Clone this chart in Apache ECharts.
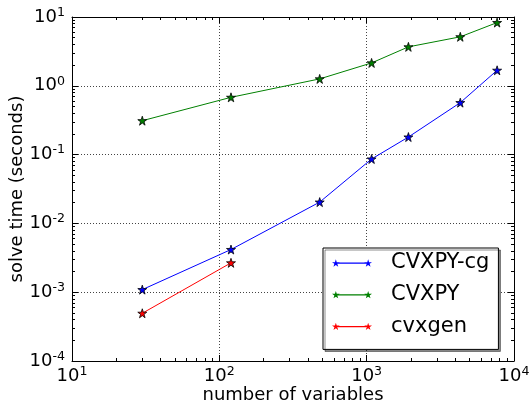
<!DOCTYPE html>
<html>
<head>
<meta charset="utf-8">
<script src="https://cdn.jsdelivr.net/npm/echarts@6/dist/echarts.min.js"></script>
<style>
  html, body { margin: 0; padding: 0; background: #fff; }
  #chart { width: 530px; height: 405px; }
</style>
</head>
<body>
<div id="chart"></div>
<script>
// data (log-log)
const numVars = [30, 120, 480, 1080, 1920, 4320, 7680]
const cvxpyCgTimes = [0.00109, 0.00417, 0.0204, 0.0863, 0.18, 0.569, 1.68]
const cvxpyTimes = [0.311, 0.68, 1.26, 2.15, 3.68, 5.15, 8.3]
const cvxgenVars = [30, 120]
const cvxgenTimes = [0.000494, 0.00267]
const seriesNames = ['CVXPY-cg', 'CVXPY', 'cvxgen']
const seriesColors = ['#0000ff', '#008000', '#ff0000']

const font = 'DejaVu Sans'
const star = 'path://M40,0 L48.99,27.62 L78.04,27.64 L54.55,44.73 L63.51,72.36 L40,55.3 L16.49,72.36 L25.45,44.73 L1.96,27.64 L31.01,27.62 Z'
// legend icon: two stars joined by a line (matplotlib numpoints=2)
const legendIcon = 'path://M40,0 L48.99,27.62 L78.04,27.64 L54.55,44.73 L63.51,72.36 L40,55.3 L16.49,72.36 L25.45,44.73 L1.96,27.64 L31.01,27.62 Z' +
  'M360,0 L368.99,27.62 L398.04,27.64 L374.55,44.73 L383.51,72.36 L360,55.3 L336.49,72.36 L345.45,44.73 L321.96,27.64 L351.01,27.62 Z' +
  'M60,31 L340,31 L340,44 L60,44 Z'

function pow10Label(value) {
  const e = Math.round(Math.log10(value))
  return '{b|10}{s|' + e + '}'
}
const labelRich = {
  b: { fontSize: 18, fontFamily: font, color: '#000', lineHeight: 22 },
  s: { fontSize: 12.6, fontFamily: font, color: '#000', verticalAlign: 'top', lineHeight: 14 }
}

function logAxis(extra) {
  return Object.assign({
    type: 'log',
    logBase: 10,
    axisLine: { show: true, onZero: false, lineStyle: { color: '#000', width: 1 } },
    axisTick: { show: true, inside: true, length: 6, lineStyle: { color: '#000' } },
    minorTick: { show: true, splitNumber: 9, length: 3, lineStyle: { color: '#000' } },
    minorSplitLine: { show: false },
    splitLine: { show: false },
    axisLabel: { show: false }
  }, extra)
}

const chart = echarts.init(document.getElementById('chart'))

function makeSeries(name, xs, ys, color) {
  return {
    name: name,
    type: 'line',
    data: xs.map((x, i) => [x, ys[i]]),
    symbol: star,
    symbolSize: 9,
    showSymbol: true,
    animation: false,
    lineStyle: { color: color, width: 1 },
    itemStyle: { color: color, borderColor: '#000', borderWidth: 0.8 },
    emphasis: { disabled: true }
  }
}

chart.setOption({
  animation: false,
  grid: { left: 72, right: 16, top: 17, bottom: 44, containLabel: false, outerBoundsMode: 'none' },
  legend: {
    orient: 'vertical',
    left: 323,
    top: 248,
    padding: [3, 9, 11, 9],
    itemGap: 7.7,
    itemWidth: 40,
    itemHeight: 8,
    icon: legendIcon,
    backgroundColor: '#fff',
    borderColor: '#000',
    borderWidth: 1,
    borderRadius: 0,
    shadowColor: 'rgba(0,0,0,0.45)',
    shadowOffsetX: 2,
    shadowOffsetY: 2,
    itemStyle: { borderWidth: 0 },
    textStyle: { fontSize: 21, fontFamily: font, color: '#000', lineHeight: 24, padding: [0, 0, 0, 14] },
    data: seriesNames,
    selectedMode: false
  },
  xAxis: [
    logAxis({
      position: 'bottom',
      min: 10, max: 10000,
      name: 'number of variables',
      nameLocation: 'middle',
      nameGap: 25,
      nameMoveOverlap: false,
      nameTextStyle: { fontSize: 18, fontFamily: font, color: '#000' },
      axisLabel: { show: true, margin: 4, formatter: pow10Label, rich: labelRich },
      splitLine: { show: true, lineStyle: { color: '#444', width: 1, type: [1, 2] } }
    }),
    logAxis({ position: 'top', min: 10, max: 10000 })
  ],
  yAxis: [
    logAxis({
      position: 'left',
      min: 0.0001, max: 10,
      name: 'solve time (seconds)',
      nameLocation: 'middle',
      nameGap: 46,
      nameMoveOverlap: false,
      nameTextStyle: { fontSize: 18, fontFamily: font, color: '#000' },
      axisLabel: { show: true, margin: 7, formatter: pow10Label, rich: labelRich },
      splitLine: { show: true, lineStyle: { color: '#444', width: 1, type: [1, 2] } }
    }),
    logAxis({ position: 'right', min: 0.0001, max: 10 })
  ],
  series: [
    makeSeries(seriesNames[0], numVars, cvxpyCgTimes, seriesColors[0]),
    makeSeries(seriesNames[1], numVars, cvxpyTimes, seriesColors[1]),
    makeSeries(seriesNames[2], cvxgenVars, cvxgenTimes, seriesColors[2])
  ]
})
</script>
</body>
</html>
